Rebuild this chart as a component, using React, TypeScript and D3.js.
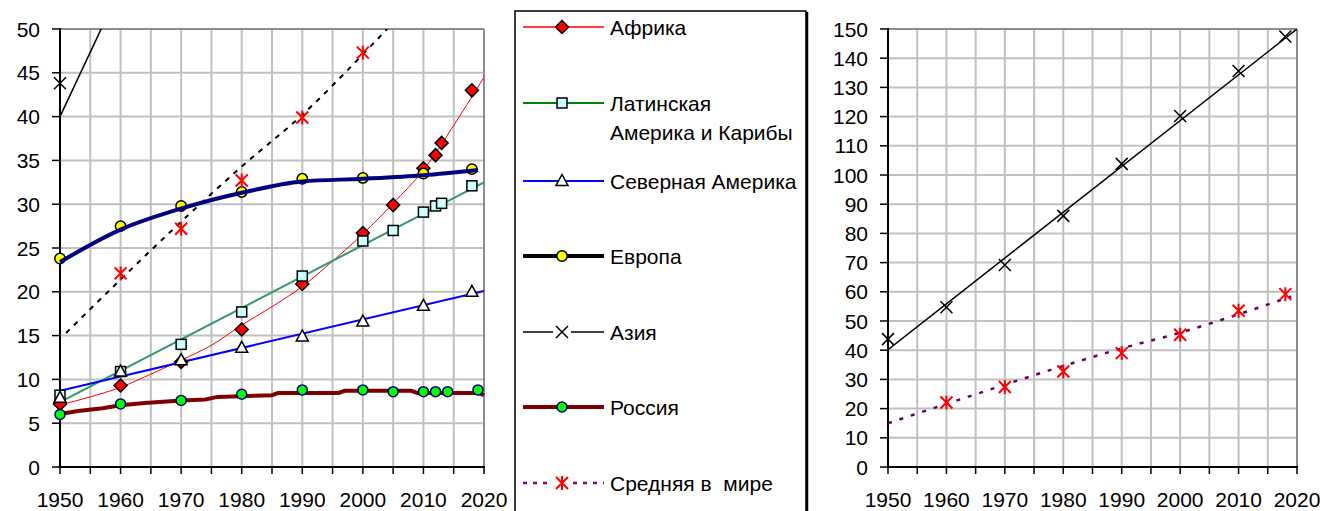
import React, { useEffect } from "react";
import * as d3 from "d3";

// ---------- DATA ----------
const africaYears = [1950, 1960, 1970, 1980, 1990, 2000, 2005, 2010, 2012, 2013, 2018];
const africaValues = [7.2, 9.3, 12.0, 15.7, 20.9, 26.7, 29.9, 34.1, 35.6, 37.0, 43.0];
const africaLineYears = [1950, 1955, 1960, 1965, 1970, 1975, 1980, 1985, 1990, 1995, 2000, 2005, 2010, 2015, 2020];
const africaLineValues = [7.1, 8.0, 9.1, 10.6, 12.2, 13.9, 16.2, 18.3, 20.6, 23.5, 26.6, 30.1, 33.9, 39.0, 44.5];

const latinYears = [1950, 1960, 1970, 1980, 1990, 2000, 2005, 2010, 2012, 2013, 2018];
const latinValues = [8.2, 10.9, 14.0, 17.7, 21.8, 25.8, 27.0, 29.1, 29.8, 30.1, 32.1];
const latinTrendYears = [1950, 2020];
const latinTrendValues = [7.4, 32.5];

const naYears = [1950, 1960, 1970, 1980, 1990, 2000, 2010, 2018];
const naValues = [7.9, 10.9, 12.2, 13.6, 14.9, 16.6, 18.4, 20.0];
const naTrendYears = [1950, 2020];
const naTrendValues = [8.7, 20.1];

const europeYears = [1950, 1960, 1970, 1980, 1990, 2000, 2010, 2018];
const europeValues = [23.8, 27.5, 29.8, 31.4, 32.9, 33.0, 33.5, 34.0];
const europeLineYears = [1950, 1960, 1970, 1980, 1990, 2000, 2010, 2019];
const europeLineValues = [23.4, 27.1, 29.5, 31.3, 32.6, 32.9, 33.3, 33.9];

const asiaYears = [1950, 1960, 1970, 1980, 1990, 2000, 2010, 2018];
const asiaValues = [43.8, 54.7, 69.2, 86.0, 103.8, 120.2, 135.6, 147.4];
const asiaTrendYears = [1950, 2020];
const asiaTrendValues = [40.2, 150];
const asiaLeftTrendYears = [1950, 1957];
const asiaLeftTrendValues = [40.0, 50.3];

const russiaYears = [1950, 1960, 1970, 1980, 1990, 2000, 2005, 2010, 2012, 2014, 2019];
const russiaValues = [6.0, 7.2, 7.6, 8.3, 8.8, 8.8, 8.6, 8.6, 8.6, 8.6, 8.8];
const russiaLineYears = [1950, 1953, 1957, 1960, 1964, 1970, 1974, 1976, 1985, 1986, 1996, 1997, 2008, 2009, 2019, 2020];
const russiaLineValues = [6.05, 6.4, 6.7, 7.05, 7.3, 7.6, 7.7, 8.0, 8.2, 8.45, 8.45, 8.7, 8.7, 8.45, 8.45, 8.2];

const worldLeftYears = [1960, 1970, 1980, 1990, 2000];
const worldLeftValues = [22.1, 27.2, 32.7, 39.9, 47.3];
const worldLeftTrendYears = [1951, 1960, 1970, 1980, 1990, 2000, 2004];
const worldLeftTrendValues = [15.3, 21.4, 28.0, 34.3, 40.2, 47.1, 50.0];

const worldRightYears = [1960, 1970, 1980, 1990, 2000, 2010, 2018];
const worldRightValues = [22.1, 27.4, 32.7, 39.0, 45.3, 53.5, 59.2];
const worldRightTrendYears = [1950, 1960, 1970, 1980, 1990, 2000, 2010, 2019];
const worldRightTrendValues = [15.0, 21.6, 28.2, 34.6, 40.6, 46.0, 52.3, 58.4];

const xTickLabels = [1950, 1960, 1970, 1980, 1990, 2000, 2010, 2020];
const xMinorTicks = d3.range(1950, 2021, 5);
const leftYTicks = d3.range(0, 51, 5);
const rightYTicks = d3.range(0, 151, 10);

const legendLabels = [
  ["Африка"],
  ["Латинская", "Америка и Карибы"],
  ["Северная Америка"],
  ["Европа"],
  ["Азия"],
  ["Россия"],
  ["Средняя в  мире"],
];

// ---------- STYLE ----------
const FONT = "'Liberation Sans', Arial, sans-serif";
const FS = 21;
const GRID = "#c0c0c0";
const BORDER = "#8c8c8c";

type Pt = [number, number];
const zip = (a: number[], b: number[]): Pt[] => a.map((v, i) => [v, b[i]]);

function Marker({ kind, x, y }: { kind: string; x: number; y: number }) {
  switch (kind) {
    case "diamond":
      return <path d={`M${x},${y - 6.5}L${x + 6.5},${y}L${x},${y + 6.5}L${x - 6.5},${y}Z`} fill="#ff0000" stroke="#000" strokeWidth={1.5} />;
    case "square":
      return <rect x={x - 5} y={y - 5} width={10} height={10} fill="#ccffff" stroke="#000" strokeWidth={1.5} />;
    case "triangle":
      return <path d={`M${x},${y - 6.5}L${x + 6},${y + 4.5}L${x - 6},${y + 4.5}Z`} fill="#fff" stroke="#000" strokeWidth={1.5} />;
    case "yellow":
      return <circle cx={x} cy={y} r={5.2} fill="#ffff00" stroke="#000" strokeWidth={1.5} />;
    case "green":
      return <circle cx={x} cy={y} r={5} fill="#00ff00" stroke="#000080" strokeWidth={1.5} />;
    case "x":
      return <path d={`M${x - 6},${y - 6}L${x + 6},${y + 6}M${x - 6},${y + 6}L${x + 6},${y - 6}`} stroke="#000" strokeWidth={1.5} fill="none" />;
    case "star":
      return <path d={`M${x - 6},${y - 6}L${x + 6},${y + 6}M${x - 6},${y + 6}L${x + 6},${y - 6}M${x},${y - 7}L${x},${y + 7}`} stroke="#ff0000" strokeWidth={2} fill="none" />;
    default:
      return null;
  }
}

type Sc = d3.ScaleLinear<number, number>;

function Panel({
  x0, x1, yTop, yBot, yMax, yTicks, clipId, lines, marks,
}: {
  x0: number; x1: number; yTop: number; yBot: number; yMax: number; yTicks: number[]; clipId: string;
  lines: (x: Sc, y: Sc) => React.ReactNode;
  marks: (x: Sc, y: Sc) => React.ReactNode;
}) {
  const x = d3.scaleLinear().domain([1950, 2020]).range([x0, x1]);
  const y = d3.scaleLinear().domain([0, yMax]).range([yBot, yTop]);
  return (
    <g>
      <defs>
        <clipPath id={clipId}>
          <rect x={x0} y={yTop} width={x1 - x0} height={yBot - yTop} />
        </clipPath>
      </defs>
      {xMinorTicks.filter((t) => t > 1950 && t < 2020).map((t) => (
        <line key={"vg" + t} x1={x(t)} x2={x(t)} y1={yTop} y2={yBot} stroke={GRID} strokeWidth={2} />
      ))}
      {yTicks.filter((t) => t > 0 && t < yMax).map((t) => (
        <line key={"hg" + t} x1={x0} x2={x1} y1={y(t)} y2={y(t)} stroke={GRID} strokeWidth={2} />
      ))}
      <line x1={x0} x2={x1} y1={yTop} y2={yTop} stroke={BORDER} strokeWidth={2} />
      <line x1={x1} x2={x1} y1={yTop} y2={yBot} stroke={BORDER} strokeWidth={2} />
      <line x1={x0} x2={x0} y1={yTop - 1} y2={yBot + 1} stroke="#000" strokeWidth={2} />
      <line x1={x0 - 1} x2={x1 + 1} y1={yBot} y2={yBot} stroke="#000" strokeWidth={2} />
      {yTicks.map((t) => (
        <g key={"yt" + t}>
          <line x1={x0 - 8} x2={x0} y1={y(t)} y2={y(t)} stroke="#000" strokeWidth={1.5} />
          <text x={x0 - 20} y={y(t)} dy="0.36em" textAnchor="end" fontSize={FS} fontFamily={FONT} fill="#000">{t}</text>
        </g>
      ))}
      {xMinorTicks.map((t) => (
        <line key={"xt" + t} x1={x(t)} x2={x(t)} y1={yBot} y2={yBot + 7} stroke="#000" strokeWidth={1.5} />
      ))}
      {xTickLabels.map((t) => (
        <text key={"xl" + t} x={x(t)} y={507} textAnchor="middle" fontSize={FS} fontFamily={FONT} fill="#000">{t}</text>
      ))}
      <g clipPath={`url(#${clipId})`}>{lines(x, y)}</g>
      <g>{marks(x, y)}</g>
    </g>
  );
}

export default function App() {
  useEffect(() => {
    document.body.style.margin = "0";
  }, []);

  const lineOf = (x: any, y: any, curve: any = d3.curveLinear) =>
    d3.line<Pt>().x((d) => x(d[0])).y((d) => y(d[1])).curve(curve);

  const markers = (x: any, y: any, yrs: number[], vals: number[], kind: string, key: string, max = Infinity) =>
    yrs.map((yr, i) => (vals[i] <= max ? <Marker key={key + i} kind={kind} x={x(yr)} y={y(vals[i])} /> : null));

  // legend layout
  const legX0 = 523, legX1 = 604, legMX = 562, legTX = 610;
  const legendRows = [
    { y: 27, stroke: "#ff0000", w: 1.5, kind: "diamond", dash: undefined as string | undefined, gap: false },
    { y: 103, stroke: "#008000", w: 2, kind: "square", dash: undefined, gap: false },
    { y: 181, stroke: "#0000ff", w: 2, kind: "triangle", dash: undefined, gap: false },
    { y: 256, stroke: "#000000", w: 4, kind: "yellow", dash: undefined, gap: false },
    { y: 332, stroke: "#000000", w: 1.5, kind: "x", dash: undefined, gap: true },
    { y: 407, stroke: "#800000", w: 4, kind: "green", dash: undefined, gap: false },
    { y: 483, stroke: "#800080", w: 2.5, kind: "star", dash: "4,6", gap: true },
  ];

  return (
    <svg width={1324} height={511} style={{ display: "block", position: "absolute", left: 0, top: 0, background: "#fff" }}>
      <rect x={0} y={0} width={1324} height={511} fill="#fff" />
      {/* LEFT CHART */}
      <Panel
        x0={60} x1={484} yTop={29} yBot={467} yMax={50} yTicks={leftYTicks} clipId="clipL"
        lines={(x, y) => (
          <g>
            <path d={lineOf(x, y, d3.curveMonotoneX)(zip(africaLineYears, africaLineValues)) || ""} fill="none" stroke="#ff0000" strokeWidth={1} />
            <path d={lineOf(x, y)(zip(latinTrendYears, latinTrendValues)) || ""} fill="none" stroke="#339966" strokeWidth={2} />
            <path d={lineOf(x, y)(zip(naTrendYears, naTrendValues)) || ""} fill="none" stroke="#0000ff" strokeWidth={2} />
            <path d={lineOf(x, y)(zip(asiaLeftTrendYears, asiaLeftTrendValues)) || ""} fill="none" stroke="#000" strokeWidth={1.5} />
            <path d={lineOf(x, y, d3.curveMonotoneX)(zip(worldLeftTrendYears, worldLeftTrendValues)) || ""} fill="none" stroke="#000" strokeWidth={2} strokeDasharray="5,6" />
          </g>
        )}
        marks={(x, y) => (
          <g>
            {markers(x, y, africaYears, africaValues, "diamond", "af")}
            {markers(x, y, latinYears, latinValues, "square", "la")}
            {markers(x, y, naYears, naValues, "triangle", "na")}
            {markers(x, y, europeYears, europeValues, "yellow", "eu")}
            <path d={lineOf(x, y, d3.curveMonotoneX)(zip(europeLineYears, europeLineValues)) || ""} fill="none" stroke="#000080" strokeWidth={4} />
            {markers(x, y, asiaYears, asiaValues, "x", "as", 50)}
            <path d={lineOf(x, y)(zip(russiaLineYears, russiaLineValues)) || ""} fill="none" stroke="#800000" strokeWidth={4} />
            {markers(x, y, russiaYears, russiaValues, "green", "ru")}
            {markers(x, y, worldLeftYears, worldLeftValues, "star", "wl")}
          </g>
        )}
      />

      {/* LEGEND */}
      <rect x={515} y={11} width={291} height={520} fill="#fff" stroke="#000" strokeWidth={1.5} />
      <line x1={807} x2={807} y1={12} y2={511} stroke="#000" strokeWidth={2.5} />
      {legendRows.map((r, i) => (
        <g key={"lg" + i}>
          <line x1={legX0} x2={legX1} y1={r.y} y2={r.y} stroke={r.stroke} strokeWidth={r.w} strokeDasharray={r.dash} />
          {r.gap && <rect x={legMX - 9} y={r.y - 8} width={18} height={16} fill="#fff" />}
          <Marker kind={r.kind} x={legMX} y={r.y} />
          {legendLabels[i].map((t, j) => (
            <text key={j} x={legTX} y={r.y + j * 29} dy="0.36em" fontSize={FS} fontFamily={FONT} fill="#000" style={{ whiteSpace: "pre" }}>{t}</text>
          ))}
        </g>
      ))}

      {/* RIGHT CHART */}
      <Panel
        x0={888} x1={1297} yTop={29} yBot={467} yMax={150} yTicks={rightYTicks} clipId="clipR"
        lines={(x, y) => (
          <g>
            <path d={lineOf(x, y)(zip(asiaTrendYears, asiaTrendValues)) || ""} fill="none" stroke="#000" strokeWidth={1.5} />
            <path d={lineOf(x, y, d3.curveMonotoneX)(zip(worldRightTrendYears, worldRightTrendValues)) || ""} fill="none" stroke="#660066" strokeWidth={2.5} strokeDasharray="4,8" />
          </g>
        )}
        marks={(x, y) => (
          <g>
            {markers(x, y, asiaYears, asiaValues, "x", "ras")}
            {markers(x, y, worldRightYears, worldRightValues, "star", "rw")}
          </g>
        )}
      />
    </svg>
  );
}
